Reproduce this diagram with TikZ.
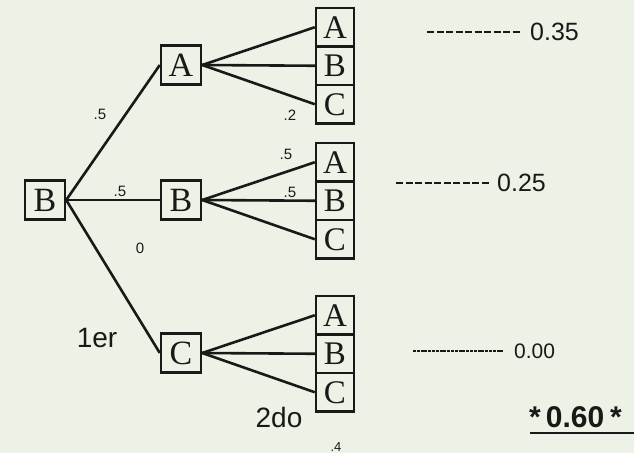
\documentclass[tikz,border=0pt]{standalone}
\usepackage{fontspec}
\setmainfont{Liberation Serif}
\newfontfamily\lsans{Liberation Sans}
\definecolor{paper}{RGB}{236,243,230}
\definecolor{ink}{RGB}{24,26,24}
\begin{document}
\begin{tikzpicture}[x=1pt,y=-1pt,
  box/.style={draw=ink,line width=2.4pt,inner sep=0pt,minimum width=40pt,minimum height=39pt,font=\fontsize{34}{34}\selectfont,text=ink},
  leaf/.style={draw=ink,line width=2.4pt,inner sep=0pt,minimum width=38pt,minimum height=38.5pt,font=\fontsize{33}{33}\selectfont,text=ink},
  edge/.style={draw=ink,line width=2.6pt},
  prob/.style={font=\lsans\fontsize{15}{15}\selectfont,text=ink,inner sep=0pt},
  big/.style={font=\lsans\fontsize{28}{28}\selectfont,text=ink,inner sep=0pt},
  res/.style={font=\lsans\fontsize{25}{25}\selectfont,text=ink,inner sep=0pt,anchor=west},
  lead/.style={draw=ink,line width=2.2pt,dash pattern=on 7pt off 2.5pt}
]
\fill[paper] (0,0) rectangle (634,453);
\useasboundingbox (0,0) rectangle (634,453);

% first level
\node[box] (r) at (45,200) {B};
\node[box] (a1) at (181,65) {A};
\node[box] (b1) at (181,200) {B};
\node[box] (c1) at (181,353) {C};

% second level
\node[leaf] (aa) at (335,27.25) {A};
\node[leaf] (ab) at (335,65.75) {B};
\node[leaf] (ac) at (335,104.25) {C};
\node[leaf] (ba) at (335,162.25) {A};
\node[leaf] (bb) at (335,200.75) {B};
\node[leaf] (bc) at (335,239.25) {C};
\node[leaf] (ca) at (335,315.25) {A};
\node[leaf] (cb) at (335,353.75) {B};
\node[leaf] (cc) at (335,392.25) {C};

% edges
\draw[edge] (r.east) -- (a1.west);
\draw[edge] (r.east) -- (b1.west);
\draw[edge] (r.east) -- (c1.west);
\foreach \p/\q in {a1/aa,a1/ab,a1/ac,b1/ba,b1/bb,b1/bc,c1/ca,c1/cb,c1/cc}
  \draw[edge] (\p.east) -- (\q.west);

% probabilities
\node[prob] (p1) at (100,114) {.5};
\node[prob] (p2) at (290,115) {.2};
\node[prob] (p3) at (286,154) {.5};
\node[prob] (p4) at (120,191) {.5};
\node[prob] (p5) at (290,192) {.5};
\node[prob] (p6) at (140,248) {0};
\node[prob,font=\lsans\fontsize{13}{13}\selectfont] (p7) at (336,447) {.4};

\node[big] (l1) at (97,338) {1er};
\node[big] (l2) at (279,417) {2do};

% results
\coordinate (d1s) at (427,32); \coordinate (d1e) at (520,32);
\draw[lead] (d1s) -- (d1e);
\node[res] (v1) at (530,32) {0.35};
\coordinate (d2s) at (396,183); \coordinate (d2e) at (490,183);
\draw[lead] (d2s) -- (d2e);
\node[res] (v2) at (497,183) {0.25};
\coordinate (d3s) at (413,351); \coordinate (d3e) at (503,351);
\draw[draw=ink,line width=1.1pt,dash pattern=on 3pt off 0.8pt] (d3s) -- (d3e);
\node[res,font=\lsans\fontsize{21}{21}\selectfont] (v3) at (514,351) {0.00};
\node[res,font=\lsans\bfseries\fontsize{30}{30}\selectfont] (tot) at (529,417) {*\hspace{5pt}0.60\hspace{6pt}*};
\coordinate (u1) at (530,433); \coordinate (u2) at (634,433);
\draw[draw=ink,line width=1.8pt] (u1) -- (u2);
\end{tikzpicture}
\end{document}
